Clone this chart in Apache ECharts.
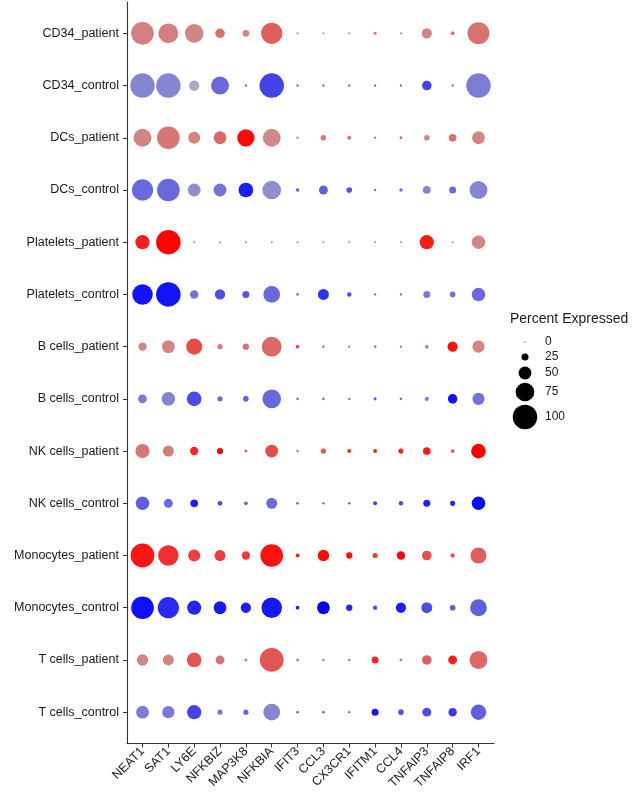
<!DOCTYPE html>
<html>
<head>
<meta charset="utf-8">
<script src="https://cdn.jsdelivr.net/npm/echarts@6/dist/echarts.min.js"></script>
<style>html,body{margin:0;padding:0;background:#fff}#c{width:642px;height:798px}</style>
</head>
<body>
<div id="c"></div>
<script>
const genes = ['NEAT1','SAT1','LY6E','NFKBIZ','MAP3K8','NFKBIA','IFIT3','CCL3','CX3CR1','IFITM1','CCL4','TNFAIP3','TNFAIP8','IRF1'];
const groups = ['CD34_patient','CD34_control','DCs_patient','DCs_control','Platelets_patient','Platelets_control','B cells_patient','B cells_control','NK cells_patient','NK cells_control','Monocytes_patient','Monocytes_control','T cells_patient','T cells_control'];
const legendTicks = [0, 25, 50, 75, 100];

// percent expressed per group (gene order as above)
const pct_CD34_patient      = [92, 80, 75, 36, 24, 86, 4, 4, 4, 8, 4, 39, 12, 89];
const pct_CD34_control      = [100, 100, 39, 72, 5, 100, 5, 5, 5, 5, 5, 36, 5, 100];
const pct_DCs_patient       = [72, 92, 47, 50, 69, 72, 5, 19, 12, 5, 7, 19, 28, 50];
const pct_DCs_control       = [86, 92, 50, 50, 58, 75, 10, 33, 19, 5, 10, 28, 25, 72];
const pct_Platelets_patient = [56, 100, 4, 4, 4, 4, 4, 4, 4, 4, 4, 56, 4, 53];
const pct_Platelets_control = [83, 100, 31, 39, 25, 67, 6, 42, 14, 5, 5, 25, 19, 53];
const pct_B_patient         = [31, 50, 64, 17, 22, 80, 11, 6, 5, 7, 5, 12, 39, 47];
const pct_B_control         = [33, 53, 58, 17, 19, 75, 6, 6, 5, 8, 6, 14, 36, 47];
const pct_NK_patient        = [56, 42, 31, 22, 8, 50, 6, 18, 12, 12, 17, 28, 11, 58];
const pct_NK_control        = [53, 33, 28, 15, 11, 42, 7, 5, 6, 12, 14, 25, 17, 53];
const pct_Mono_patient      = [97, 83, 47, 42, 31, 92, 12, 44, 22, 17, 31, 36, 14, 64];
const pct_Mono_control      = [92, 86, 56, 50, 39, 83, 11, 50, 22, 14, 39, 42, 19, 67];
const pct_T_patient         = [44, 42, 58, 33, 8, 97, 6, 6, 6, 25, 7, 36, 33, 72];
const pct_T_control         = [50, 47, 56, 17, 17, 67, 6, 6, 5, 25, 19, 33, 31, 61];

// scaled average expression (0 = grey, 1 = full colour)
const exp_CD34_patient      = [0.33, 0.33, 0.30, 0.40, 0.30, 0.50, 0.30, 0.30, 0.30, 0.40, 0.30, 0.30, 0.35, 0.40];
const exp_CD34_control      = [0.30, 0.30, 0.10, 0.45, 0.40, 0.65, 0.40, 0.40, 0.40, 0.40, 0.40, 0.65, 0.30, 0.35];
const exp_DCs_patient       = [0.30, 0.38, 0.30, 0.45, 0.95, 0.28, 0.30, 0.35, 0.40, 0.35, 0.40, 0.30, 0.40, 0.30];
const exp_DCs_control       = [0.45, 0.45, 0.25, 0.40, 0.85, 0.25, 0.50, 0.50, 0.55, 0.40, 0.40, 0.30, 0.45, 0.30];
const exp_Platelets_patient = [0.85, 0.98, 0.30, 0.30, 0.30, 0.30, 0.30, 0.30, 0.30, 0.30, 0.30, 0.85, 0.30, 0.30];
const exp_Platelets_control = [0.90, 0.90, 0.40, 0.60, 0.55, 0.45, 0.40, 0.75, 0.60, 0.40, 0.40, 0.35, 0.40, 0.45];
const exp_B_patient         = [0.30, 0.30, 0.60, 0.35, 0.40, 0.45, 0.60, 0.40, 0.40, 0.40, 0.40, 0.30, 0.90, 0.30];
const exp_B_control         = [0.35, 0.30, 0.60, 0.45, 0.50, 0.45, 0.40, 0.40, 0.40, 0.50, 0.40, 0.30, 0.90, 0.40];
const exp_NK_patient        = [0.38, 0.35, 0.80, 0.95, 0.45, 0.60, 0.35, 0.55, 0.75, 0.80, 0.80, 0.85, 0.50, 1.00];
const exp_NK_control        = [0.50, 0.45, 0.85, 0.60, 0.45, 0.45, 0.40, 0.40, 0.40, 0.65, 0.60, 0.85, 0.80, 0.95];
const exp_Mono_patient      = [0.88, 0.75, 0.65, 0.70, 0.70, 0.90, 0.85, 0.95, 0.95, 0.70, 0.95, 0.60, 0.50, 0.50];
const exp_Mono_control      = [0.92, 0.78, 0.80, 0.88, 0.85, 0.88, 0.80, 1.00, 0.80, 0.55, 0.85, 0.60, 0.50, 0.50];
const exp_T_patient         = [0.30, 0.30, 0.55, 0.40, 0.35, 0.55, 0.50, 0.40, 0.40, 0.80, 0.40, 0.50, 0.85, 0.45];
const exp_T_control         = [0.35, 0.35, 0.65, 0.35, 0.45, 0.30, 0.40, 0.40, 0.40, 0.90, 0.55, 0.60, 0.70, 0.50];

const pctRows = [pct_CD34_patient, pct_CD34_control, pct_DCs_patient, pct_DCs_control, pct_Platelets_patient, pct_Platelets_control, pct_B_patient, pct_B_control, pct_NK_patient, pct_NK_control, pct_Mono_patient, pct_Mono_control, pct_T_patient, pct_T_control];
const expRows = [exp_CD34_patient, exp_CD34_control, exp_DCs_patient, exp_DCs_control, exp_Platelets_patient, exp_Platelets_control, exp_B_patient, exp_B_control, exp_NK_patient, exp_NK_control, exp_Mono_patient, exp_Mono_control, exp_T_patient, exp_T_control];

const patientData = [], controlData = [];
groups.forEach((g, r) => {
  const target = g.endsWith('_patient') ? patientData : controlData;
  genes.forEach((gene, c) => target.push([c, r, pctRows[r][c], expRows[r][c]]));
});

const MIND = 1.2, MAXD = 24.5; // diameter at 0% and 100%
const idx = genes.map((_, i) => i);
const ridx = groups.map((_, i) => i);
const FONT = '"Liberation Sans", Arial, Helvetica, sans-serif';
const TXT = '#1a1a1a';

const chart = echarts.init(document.getElementById('c'), null, {renderer: 'canvas'});

// size legend built from the same size scale
const legendY = [342, 357, 373, 392, 417];
const legendGraphics = [{
  type: 'text', left: 510, top: 312,
  style: {text: 'Percent Expressed', font: '14px ' + FONT, fill: TXT}
}];
legendTicks.forEach((v, i) => {
  legendGraphics.push({type: 'circle', shape: {cx: 525, cy: legendY[i], r: (MIND + (MAXD - MIND) * v / 100) / 2}, style: {fill: '#000'}});
  legendGraphics.push({type: 'text', x: 545, y: legendY[i], style: {text: String(v), font: '12px ' + FONT, fill: TXT, verticalAlign: 'middle'}});
});

chart.setOption({
  animation: false,
  backgroundColor: '#fff',
  grid: {left: 127, right: 148, top: 2, bottom: 54.5, containLabel: false},
  xAxis: {
    type: 'value', min: -0.6, max: 13.6,
    splitLine: {show: false},
    axisLine: {show: true, onZero: false, lineStyle: {color: '#333', width: 1.1}},
    axisTick: {show: true, customValues: idx, length: 4, lineStyle: {color: '#333', width: 1}},
    axisLabel: {customValues: idx, rotate: 45, margin: 6, color: TXT, fontSize: 12.5, fontFamily: FONT,
      formatter: v => genes[Math.round(v)]}
  },
  yAxis: {
    type: 'value', min: -0.6, max: 13.6, inverse: true,
    splitLine: {show: false},
    axisLine: {show: true, onZero: false, lineStyle: {color: '#333', width: 1.1}},
    axisTick: {show: true, customValues: ridx, length: 4, lineStyle: {color: '#333', width: 1}},
    axisLabel: {customValues: ridx, margin: 8, color: TXT, fontSize: 12.5, fontFamily: FONT,
      formatter: v => groups[Math.round(v)]}
  },
  visualMap: [
    {type: 'continuous', show: false, dimension: 2, min: 0, max: 100, seriesIndex: [0, 1], inRange: {symbolSize: [MIND, MAXD]}},
    {type: 'continuous', show: false, dimension: 3, min: 0, max: 1, seriesIndex: 0, inRange: {color: ['#BEBEBE', '#FF0000']}},
    {type: 'continuous', show: false, dimension: 3, min: 0, max: 1, seriesIndex: 1, inRange: {color: ['#BEBEBE', '#0000FF']}}
  ],
  series: [
    {type: 'scatter', name: 'patient', data: patientData, symbol: 'circle', itemStyle: {opacity: 1}},
    {type: 'scatter', name: 'control', data: controlData, symbol: 'circle', itemStyle: {opacity: 1}}
  ],
  graphic: legendGraphics
});
</script>
</body>
</html>
